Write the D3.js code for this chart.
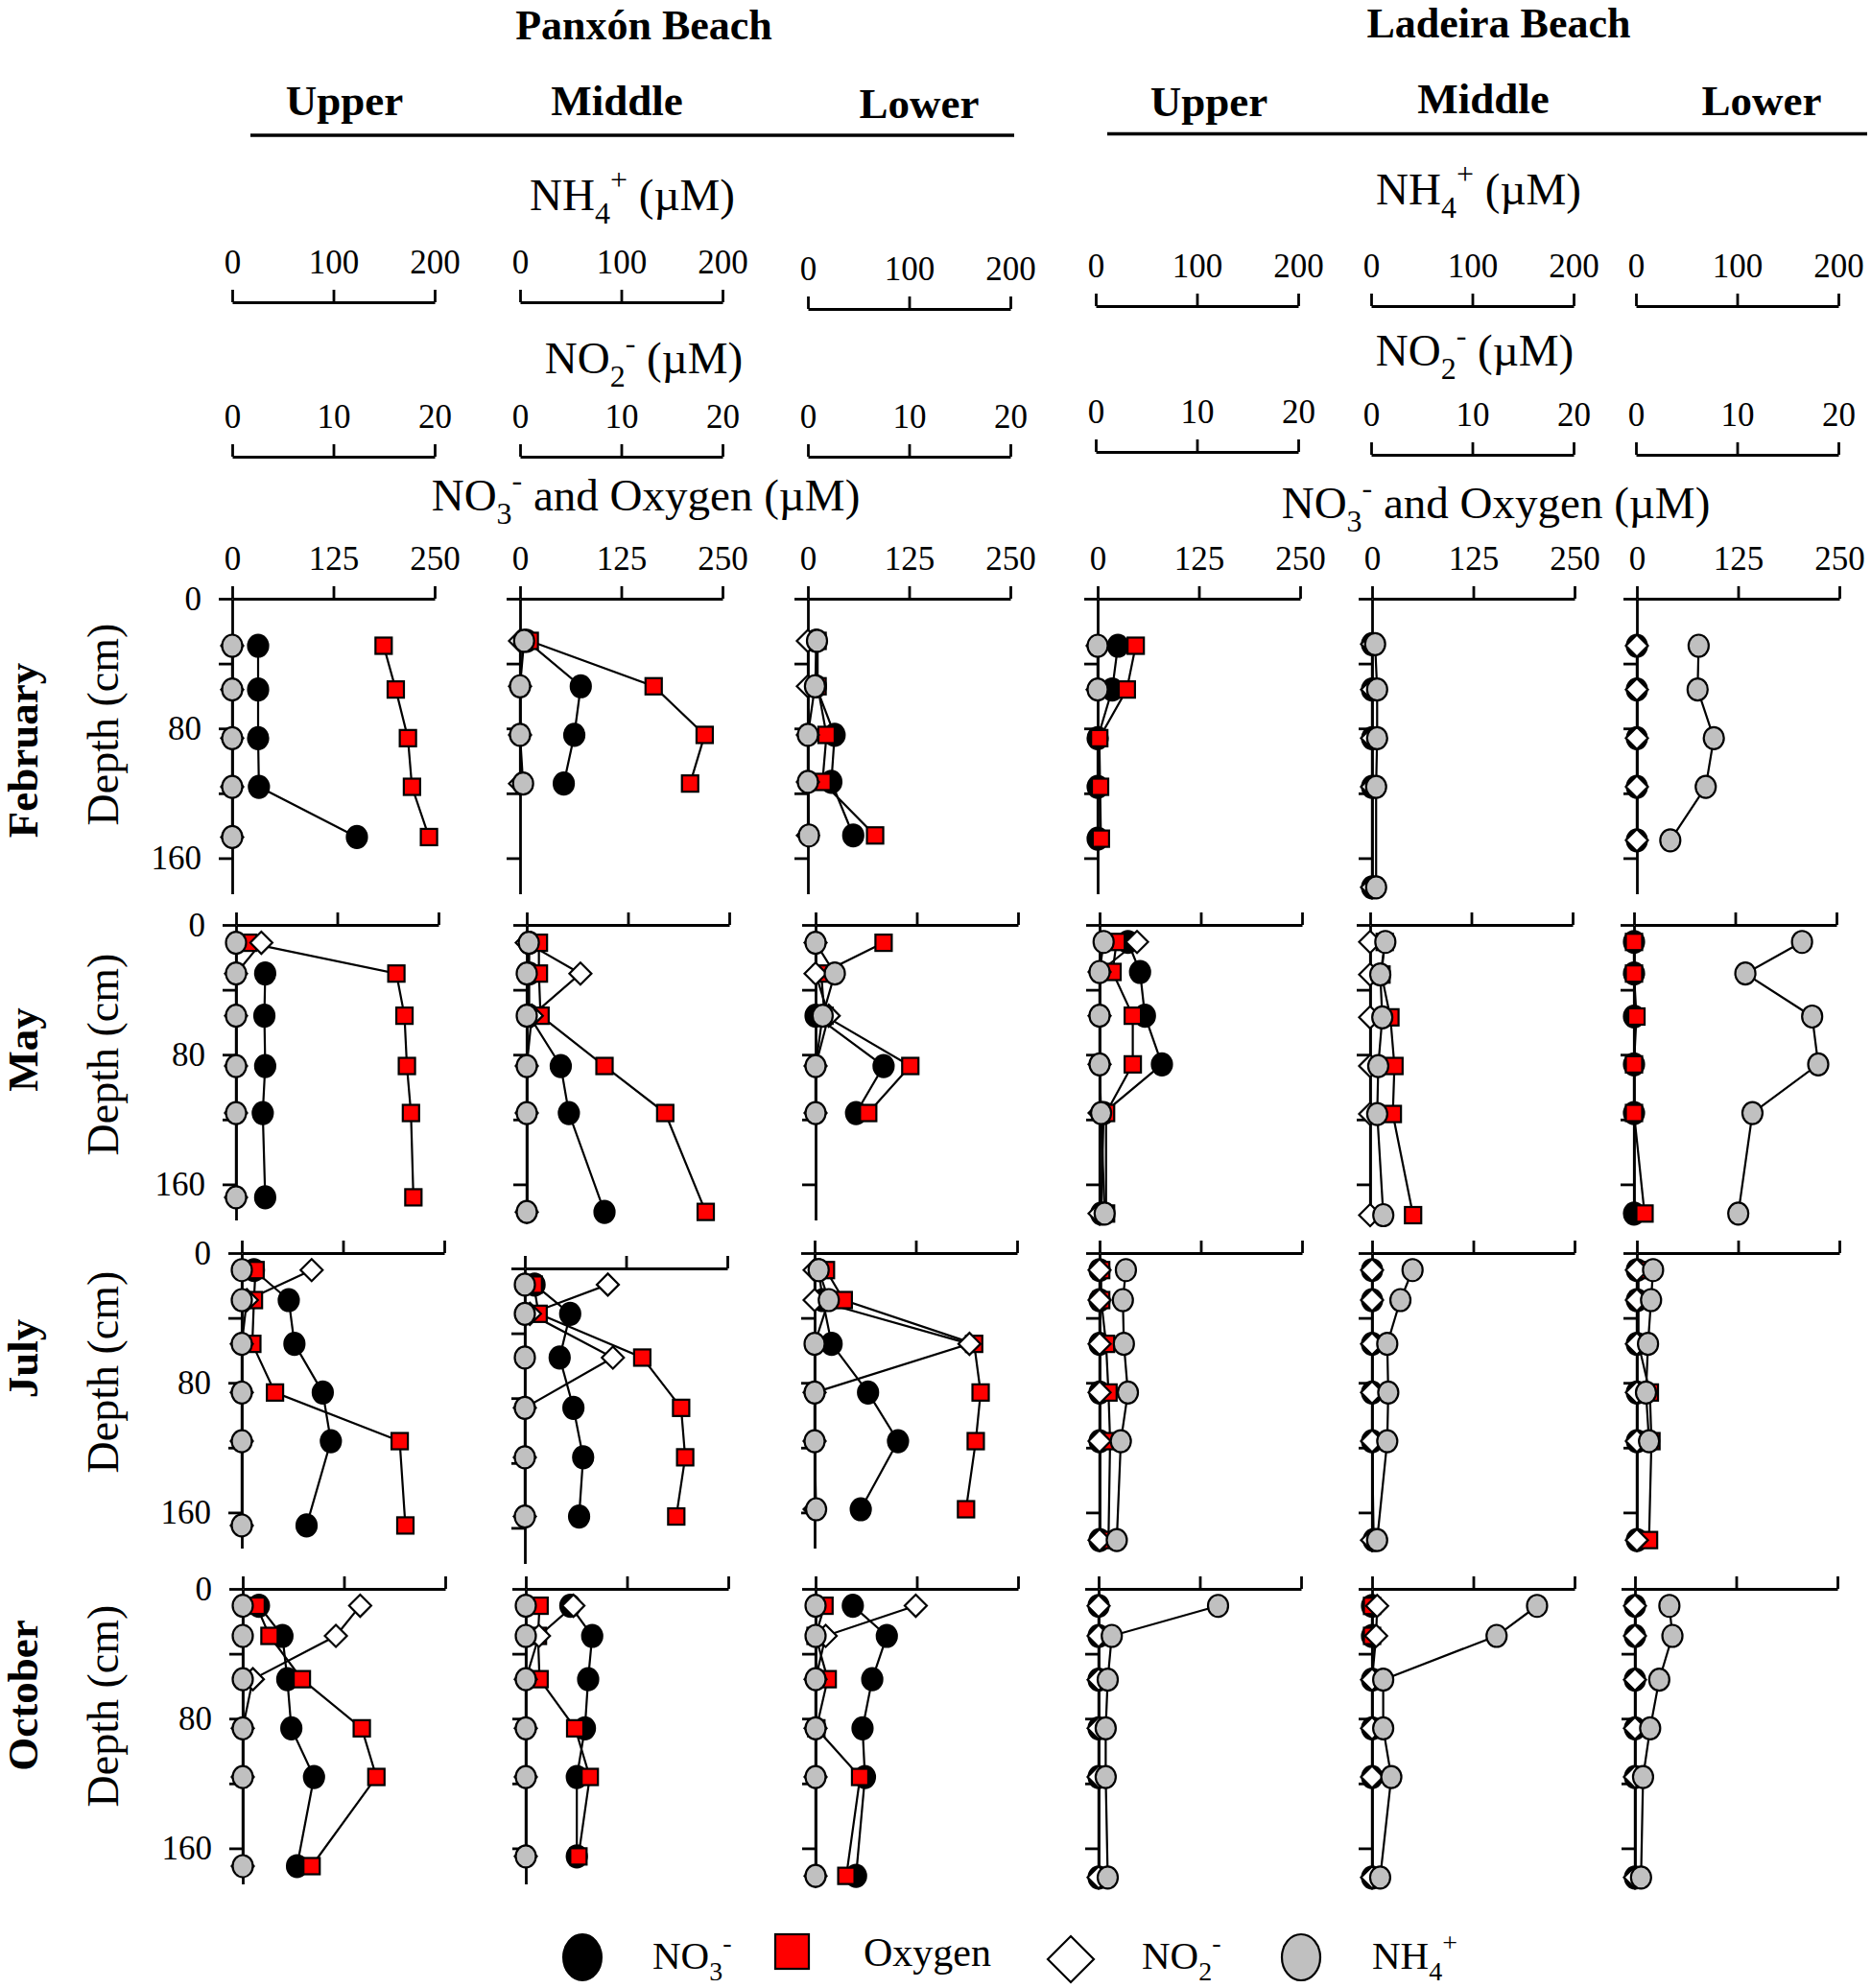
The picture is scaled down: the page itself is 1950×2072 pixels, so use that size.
<!DOCTYPE html>
<html>
<head>
<meta charset="utf-8">
<script src="https://cdn.jsdelivr.net/npm/d3@7"></script>
<style>
  body { margin: 0; background: #fff; }
  svg { display: block; }
</style>
</head>
<body>
<svg id="chart"></svg>
<script>
// labels
const months = ['February', 'May', 'July', 'October'];
const sites = ['Panxón Beach', 'Ladeira Beach'];
const zones = ['Upper', 'Middle', 'Lower'];
const no3Ticks = [0, 125, 250];
const nh4Ticks = [0, 100, 200];
const no2Ticks = [0, 10, 20];
const depthTicks = [0, 40, 80, 120, 160];
const depthLabels = [0, 80, 160];

// one inner array per panel: Panxón U, M, L, Ladeira U, M, L  (depth in cm, values in µM)
const febDepth = [[29, 56, 86, 116, 147], [26, 54, 84, 114], [26, 54, 84, 113, 146], [29, 56, 86, 116, 148], [28, 56, 86, 116, 178], [29, 56, 86, 116, 149]];
const febNO3 = [[32, 32, 32, 33, 154], [8, 75, 67, 54], [10, 10, 33, 29, 56], [25, 18, 0, 0, 0], [0, 0, 0, 0, 0], [0, 0, 0, 0, 0]];
const febO2 = [[187, 202, 217, 222, 243], [12, 165, 228, 210], [12, 12, 23, 18, 83], [47, 36, 2, 3, 4], null, null];
const febNO2 = [[0, 0, 0, 0, 0], [0, 0, 0, 0], [0, 0, 0, 0, 0], [0, 0, null, null, null], [0, 0, 0, 0, 0], [0, 0, 0, 0, 0]];
const febNH4 = [[0, 0, 0, 0, 0], [4, 0, 0, 3], [9, 7, 0, 0, 1], [0, 0, null, null, null], [3, 5, 5, 4, 4], [61, 60, 76, 68, 33]];

const mayDepth = [[11, 30, 56, 87, 116, 168], [11, 30, 56, 87, 116, 177], [11, 30, 56, 87, 116], [10.5, 29, 56, 86, 116, 178], [10.5, 30.6, 57, 87, 116.6, 179], [10.5, 30, 56.5, 86, 116, 178]];
const mayNO3 = [[null, 36, 35, 36, 33, 36], [3, 3, 3, 42, 52, 96], [null, null, 0, 84, 50], [35, 50, 56, 77, 5, 2], null, [0, 0, 0, 0, 0, 0]];
const mayO2 = [[15, 198, 208, 211, 216, 219], [15, 15, 17, 96, 171, 221], [84, 7, 11, 117, 65], [21, 16, 41, 41, 8, 8], [18, 14, 25, 30, 28, 53], [0, 0, 3, 0, 0, 13]];
const mayNO2 = [[2.5, 0, 0, 0, 0, 0], [0, 5.3, 0.5, 0, 0, 0], [0, 0, 1.3, 0, 0], [3.7, 0, 0, 0, 0, 0], [0, 0, 0, 0, 0, 0], null];
const mayNH4 = [[0, 0, 0, 0, 0, 0], [2, 0, 0, 0, 0, 0], [0, 19, 7, 0, 0], [4, 0, 0, 0, 1.5, 5], [15, 10, 12, 8, 7, 13], [166, 110, 176, 182, 117, 103]];

const julDepth = [[10.5, 29, 56, 86, 116, 168], [10, 28, 55, 86, 116.5, 153], [10.5, 29, 56, 86, 116, 158], [10.5, 29, 56, 86, 116, 177], [10.5, 29, 56, 86, 116, 177], [10.5, 29, 56, 86, 116, 177]];
const julNO3 = [[15, 58, 65, 100, 110, 80], [12, 56, 43, 60, 72, 67], [5, 10, 21, 66, 103, 57], [0, 0, 0, 0, 0, 0], [0, 0, 0, 0, 0, 2], [0, 0, 0, 0, 0, 0]];
const julO2 = [[17, 15, 13, 41, 195, 202], [11, 17, 145, 193, 198, 187], [14, 36, 197, 205, 199, 187], [2, 2, 8, 11, 13, 11], null, [2, 2, 2, 16, 18, 15]];
const julNO2 = [[6.9, 0.5, 0, 0, 0, 0], [8.2, 0.5, 8.7, 0, 0, 0], [0, 0, 15.3, 0, 0, 0], [0, 0, 0, 0, 0, 0], [0, 0, 0, 0, 0, 0], [0, 0, 0, 0, 0, 0]];
const julNH4 = [[0, 0, 0, 0, 0, 0], [0, 0, 0, 0, 0, 0], [4, 14, 0, 0, 0, 1.5], [26, 23, 24, 28, 21, 17], [40, 28, 15, 16, 15, 5], [16, 14, 11, 9, 12, null]];

const octDepth = [[10.4, 29, 55.7, 86, 116, 171], [10.4, 29, 55.7, 86, 116, 165], [10.4, 29, 55.7, 86, 116, 177], [10.5, 29, 56, 86, 116, 178], [10.5, 29, 56, 86, 116, 178], [10.5, 29, 56, 86, 116, 178]];
const octNO3 = [[20, 49, 55, 60, 88, 67], [55, 82, 77, 73, 63, 63], [46, 88, 70, 58, 61, 50], [0, 0, 0, 0, 0, 0], [0, 0, 0, 0, 0, 0], [0, 0, 0, 0, 0, 0]];
const octO2 = [[17, 33, 73, 147, 165, 85], [17, 15, 17, 61, 79, 65], [11, 0, 15, 1, 55, 38], null, [0, 0, null, null, null, null], null];
const octNO2 = [[11.6, 9.2, 1, 0, 0, 0], [4.7, 1.3, 0, 0, 0, 0], [9.9, 1, 0, 0, 0, 0], [0, 0, 0, 0, 0, 0], [0.5, 0.4, 0, 0, 0, 0], [0, 0, 0, 0, 0, 0]];
const octNH4 = [[0, 0, 0, 0, 0, 0], [0, 0, 0, 0, 0, 0], [0, 0, 0, 0, 0, 0], [118, 13, 9, 7, 7, 9], [163, 123, 11, 11, 19, 8], [34, 37, 24, 15, 8, 6]];

const monthData = [
  { depth: febDepth, no3: febNO3, o2: febO2, no2: febNO2, nh4: febNH4 },
  { depth: mayDepth, no3: mayNO3, o2: mayO2, no2: mayNO2, nh4: mayNH4 },
  { depth: julDepth, no3: julNO3, o2: julO2, no2: julNO2, nh4: julNH4 },
  { depth: octDepth, no3: octNO3, o2: octO2, no2: octNO2, nh4: octNH4 }
];

// layout
const W = 1950, H = 2072;
const FONT = '"Liberation Serif", "Times New Roman", serif';
const panelW = 211, cmPx = 1.69, depthMax = 182;
const rowX0 = [
  [242, 542, 842, 1144, 1430, 1706],
  [246, 549, 850, 1146, 1428, 1703],
  [252, 547, 849, 1146, 1430, 1706],
  [253, 548, 850, 1145, 1430, 1704]
];
const rowY0 = [
  [624, 624, 624, 624, 624, 624],
  [964, 964, 964, 964, 964, 964],
  [1306, 1322, 1306, 1306, 1306, 1306],
  [1656, 1656, 1656, 1656, 1656, 1656]
];
const headX0 = [242, 542, 842, 1142, 1429, 1705];
const nh4LineY = [315, 315, 322, 319, 319, 319];
const no2LineY = [476, 476, 476, 471, 474, 474];

const svg = d3.select('#chart').attr('width', W).attr('height', H)
  .style('font-family', FONT);
svg.append('rect').attr('width', W).attr('height', H).attr('fill', '#fff');

// sub/superscript text helper
function chem(sel, parts, size) {
  let shift = 0;
  parts.forEach(([t, m]) => {
    const target = m === 1 ? size * 0.3 : m === 2 ? -size * 0.45 : 0;
    sel.append('tspan')
      .attr('dy', target - shift)
      .style('font-size', (m ? size * 0.68 : size) + 'px')
      .text(t);
    shift = target;
  });
}

function styleAxis(g, size) {
  g.attr('font-family', FONT).attr('font-size', size);
  g.selectAll('.domain').attr('stroke', '#000').attr('stroke-width', 2.8);
  g.selectAll('.tick line').attr('stroke', '#000').attr('stroke-width', 2.8);
  g.selectAll('.tick text').attr('fill', '#000');
}

// titles
const siteX = [671, 1562], siteY = [41, 39];
sites.forEach((s, i) => {
  svg.append('text').attr('x', siteX[i]).attr('y', siteY[i])
    .attr('text-anchor', 'middle').attr('font-weight', 'bold').attr('font-size', 44).text(s);
});
const zoneX = [359, 643, 958, 1260, 1546, 1836];
const zoneY = [120, 120, 123, 121, 118, 120];
zoneX.forEach((x, i) => {
  svg.append('text').attr('x', x).attr('y', zoneY[i])
    .attr('text-anchor', 'middle').attr('font-weight', 'bold').attr('font-size', 45).text(zones[i % 3]);
});
[[261, 1057, 141], [1154, 1946, 139.5]].forEach(([a, b, y]) => {
  svg.append('line').attr('x1', a).attr('x2', b).attr('y1', y).attr('y2', y)
    .attr('stroke', '#000').attr('stroke-width', 3.5);
});

// header axis titles
const titleSize = 47;
[[659, 219], [1541, 213]].forEach(([x, y]) => {
  chem(svg.append('text').attr('x', x).attr('y', y).attr('text-anchor', 'middle'),
    [['NH', 0], ['4', 1], ['+', 2], [' (µM)', 0]], titleSize);
});
[[671, 389], [1537, 381]].forEach(([x, y]) => {
  chem(svg.append('text').attr('x', x).attr('y', y).attr('text-anchor', 'middle'),
    [['NO', 0], ['2', 1], ['-', 2], [' (µM)', 0]], titleSize);
});
[[673, 532], [1559, 540]].forEach(([x, y]) => {
  chem(svg.append('text').attr('x', x).attr('y', y).attr('text-anchor', 'middle'),
    [['NO', 0], ['3', 1], ['-', 2], [' and Oxygen (µM)', 0]], titleSize);
});

// header scale bars for NH4 and NO2
headX0.forEach((x0, c) => {
  const xN = d3.scaleLinear().domain([0, 200]).range([x0, x0 + panelW]);
  const gN = svg.append('g').attr('transform', `translate(0,${nh4LineY[c]})`)
    .call(d3.axisTop(xN).tickValues(nh4Ticks).tickSize(13).tickSizeOuter(0).tickPadding(17));
  styleAxis(gN, 35);
  const x2 = d3.scaleLinear().domain([0, 20]).range([x0, x0 + panelW]);
  const g2 = svg.append('g').attr('transform', `translate(0,${no2LineY[c]})`)
    .call(d3.axisTop(x2).tickValues(no2Ticks).tickSize(13).tickSizeOuter(0).tickPadding(17));
  styleAxis(g2, 35);
});

// panels
const domains = { no3: [0, 250], o2: [0, 250], no2: [0, 20], nh4: [0, 200] };
const order = ['no3', 'o2', 'no2', 'nh4'];

monthData.forEach((md, r) => {
  for (let c = 0; c < 6; c++) {
    const x0 = rowX0[r][c], y0 = rowY0[r][c];
    const y = d3.scaleLinear().domain([0, depthMax]).range([y0, y0 + depthMax * cmPx]);
    const xs = {};
    order.forEach(k => { xs[k] = d3.scaleLinear().domain(domains[k]).range([x0, x0 + panelW]); });
    const g = svg.append('g');

    const gx = g.append('g').attr('transform', `translate(0,${y0})`)
      .call(d3.axisTop(xs.no3).tickValues(no3Ticks).tickSize(13).tickSizeOuter(0).tickPadding(17)
        .tickFormat(r === 0 ? d3.format('d') : ''));
    styleAxis(gx, 35);
    const gy = g.append('g').attr('transform', `translate(${x0},0)`)
      .call(d3.axisLeft(y).tickValues(depthTicks).tickSize(14).tickSizeOuter(0).tickPadding(18)
        .tickFormat(d => (c === 0 && depthLabels.includes(d)) ? d : ''));
    styleAxis(gy, 35);
    // drop empty tick texts
    g.selectAll('.tick text').filter(function () { return this.textContent === ''; }).remove();

    const depth = md.depth[c];
    const pts = {};
    order.forEach(k => {
      const vals = md[k][c];
      pts[k] = vals ? vals.map((v, i) => ({ v, d: depth[i] })) : [];
    });

    const line = k => d3.line().defined(p => p.v != null).x(p => xs[k](p.v)).y(p => y(p.d));
    order.forEach(k => {
      if (!pts[k].length) return;
      g.append('path').attr('d', line(k)(pts[k]))
        .attr('fill', 'none').attr('stroke', '#000').attr('stroke-width', 2.2);
    });

    order.forEach(k => {
      const data = pts[k].filter(p => p.v != null);
      const sel = g.selectAll(null).data(data);
      if (k === 'no3' || k === 'nh4') {
        sel.enter().append('ellipse')
          .attr('cx', p => xs[k](p.v)).attr('cy', p => y(p.d))
          .attr('rx', 10.5).attr('ry', 11.5)
          .attr('fill', k === 'no3' ? '#000' : '#c0c0c0')
          .attr('stroke', '#000').attr('stroke-width', 2.2);
      } else if (k === 'o2') {
        sel.enter().append('rect')
          .attr('x', p => xs[k](p.v) - 8.5).attr('y', p => y(p.d) - 8.5)
          .attr('width', 17).attr('height', 17)
          .attr('fill', '#ff0000').attr('stroke', '#000').attr('stroke-width', 2.2);
      } else {
        sel.enter().append('path')
          .attr('d', p => {
            const cx = xs[k](p.v), cy = y(p.d);
            return `M${cx},${cy - 11.5}L${cx + 11.5},${cy}L${cx},${cy + 11.5}L${cx - 11.5},${cy}Z`;
          })
          .attr('fill', '#fff').attr('stroke', '#000').attr('stroke-width', 2.2);
      }
    });
  }
});

// left labels
const monthCY = [782, 1094, 1416, 1767];
const depthCY = [755, 1099, 1430, 1778];
months.forEach((m, r) => {
  svg.append('text').attr('transform', `translate(39,${monthCY[r]}) rotate(-90)`)
    .attr('text-anchor', 'middle').attr('font-weight', 'bold').attr('font-size', 45).text(m);
  svg.append('text').attr('transform', `translate(123,${depthCY[r]}) rotate(-90)`)
    .attr('text-anchor', 'middle').attr('font-size', 46).text('Depth (cm)');
});

// legend
const lg = svg.append('g');
lg.append('ellipse').attr('cx', 607).attr('cy', 2040).attr('rx', 20).attr('ry', 24)
  .attr('fill', '#000').attr('stroke', '#000').attr('stroke-width', 2);
chem(lg.append('text').attr('x', 680).attr('y', 2052), [['NO', 0], ['3', 1], ['-', 2]], 41);
lg.append('rect').attr('x', 808).attr('y', 2016).attr('width', 35).attr('height', 36)
  .attr('fill', '#ff0000').attr('stroke', '#000').attr('stroke-width', 2.2);
lg.append('text').attr('x', 900).attr('y', 2049).attr('font-size', 42).text('Oxygen');
lg.append('path').attr('d', 'M1116,2018L1140,2042L1116,2066L1092,2042Z')
  .attr('fill', '#fff').attr('stroke', '#000').attr('stroke-width', 2.2);
chem(lg.append('text').attr('x', 1190).attr('y', 2052), [['NO', 0], ['2', 1], ['-', 2]], 41);
lg.append('ellipse').attr('cx', 1356).attr('cy', 2040).attr('rx', 20).attr('ry', 24)
  .attr('fill', '#c0c0c0').attr('stroke', '#000').attr('stroke-width', 2.2);
chem(lg.append('text').attr('x', 1430).attr('y', 2052), [['NH', 0], ['4', 1], ['+', 2]], 41);
</script>
</body>
</html>
